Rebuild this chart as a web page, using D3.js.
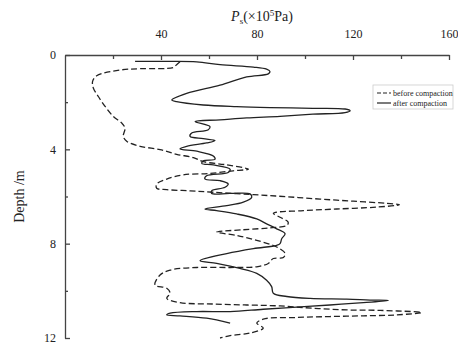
<!DOCTYPE html>
<html>
<head>
<meta charset="utf-8">
<script src="https://cdn.jsdelivr.net/npm/d3@7"></script>
<style>
  body { margin: 0; background: #fff; }
  svg text { font-family: "Liberation Serif", "Times New Roman", serif; fill: #222; }
</style>
</head>
<body>
<figure id="chart" style="margin:0"></figure>
<script>
// Ps (x10^5 Pa) vs depth (m)
const xTicks = [40, 80, 120, 160];
const xMinor = [20, 60, 100, 140];
const yTicks = [0, 4, 8, 12];
const yMinor = [2, 6, 10];
const seriesNames = ["before compaction", "after compaction"];

const beforePs = [47.9, 46.5, 45.1, 31.3, 22.9, 13.2, 11.5, 11.8, 13.9, 16.7, 20.1, 23.6, 25.0, 24.3, 25.7,
  31.3, 39.6, 46.5, 53.5, 57.6, 67.4, 76.4, 70.1, 60.4, 49.3, 42.4, 38.2, 38.2, 42.4, 52.1, 61.8, 78.5,
  92.4, 106.3, 120.1, 134.0, 139.3, 129.9, 113.2, 99.3, 86.8, 89.6, 93.0, 92.4, 85.4, 74.3, 63.2, 71.5,
  79.9, 88.2, 91.7, 91.0, 86.8, 84.7, 79.9, 68.8, 54.9, 43.8, 39.6, 37.5, 42.4, 43.8, 42.4, 47.9, 61.8,
  75.7, 89.6, 103.5, 117.4, 131.3, 148.6, 138.2, 124.3, 110.4, 96.5, 82.6, 79.9, 82.6, 77.1, 68.8, 64.6];
const beforeDepth = [0.29, 0.41, 0.53, 0.58, 0.64, 0.88, 1.12, 1.40, 1.76, 2.18, 2.60, 2.88, 3.10, 3.45, 3.66,
  3.87, 4.01, 4.21, 4.35, 4.52, 4.66, 4.84, 4.91, 5.02, 5.08, 5.26, 5.47, 5.65, 5.71, 5.76, 5.82, 5.92,
  6.01, 6.11, 6.20, 6.29, 6.35, 6.45, 6.53, 6.60, 6.71, 6.88, 7.09, 7.23, 7.33, 7.41, 7.51, 7.65,
  7.86, 8.14, 8.42, 8.59, 8.63, 8.84, 8.98, 9.01, 9.01, 9.12, 9.33, 9.76, 9.89, 10.10, 10.32, 10.50, 10.56,
  10.60, 10.64, 10.74, 10.81, 10.83, 10.92, 11.02, 11.06, 11.09, 11.13, 11.20, 11.37, 11.58, 11.79, 11.90, 12.0];

const afterPs = [29.2, 43.8, 54.9, 64.6, 78.5, 84.0, 85.4, 84.7, 75.7, 64.6, 50.7, 44.5, 46.5, 57.6, 71.5,
  85.4, 103.3, 116.7, 118.8, 116.7, 103.3, 89.6, 75.7, 64.6, 54.2, 60.4, 59.7, 52.8, 52.1, 57.6, 62.5,
  59.0, 50.7, 47.9, 54.9, 61.8, 62.5, 57.6, 57.0, 61.8, 68.8, 68.0, 59.0, 58.3, 64.6, 68.0, 66.7, 61.1,
  61.1, 68.8, 77.1, 77.8, 74.3, 67.4, 58.3, 63.2, 71.5, 79.9, 84.0, 88.2, 91.7, 90.3, 89.6, 88.2, 78.5,
  67.4, 56.3, 63.2, 72.9, 79.9, 84.0, 86.1, 86.8, 92.4, 102.1, 117.4, 127.1, 134.7, 124.3, 110.4, 96.5,
  82.6, 68.8, 54.9, 43.8, 42.4, 47.9, 59.0, 68.8];
const afterDepth = [0.27, 0.27, 0.29, 0.41, 0.51, 0.60, 0.70, 0.80, 0.93, 1.28, 1.63, 1.91, 1.98, 2.12, 2.19,
  2.23, 2.26, 2.29, 2.36, 2.44, 2.51, 2.60, 2.67, 2.75, 2.82, 3.03, 3.17, 3.31, 3.45, 3.55, 3.63,
  3.73, 3.87, 3.98, 4.08, 4.28, 4.42, 4.49, 4.60, 4.66, 4.84, 4.98, 5.12, 5.26, 5.33, 5.47, 5.61, 5.76,
  5.87, 5.87, 5.89, 6.03, 6.24, 6.39, 6.53, 6.60, 6.74, 6.95, 7.16, 7.37, 7.58, 7.79, 8.00, 8.07, 8.21,
  8.42, 8.72, 8.84, 9.05, 9.26, 9.55, 9.82, 10.10, 10.24, 10.32, 10.35, 10.39, 10.41, 10.50, 10.60, 10.69,
  10.78, 10.88, 10.88, 10.95, 11.02, 11.06, 11.16, 11.37];

const W = 458, H = 344;
const margin = { top: 55, left: 65, right: 9, bottom: 6 };

const svg = d3.select("figure#chart")
  .append("svg")
  .attr("width", W)
  .attr("height", H)
  .attr("font-family", "Liberation Serif, serif");

const x = d3.scaleLinear().domain([0, 160]).range([margin.left, W - margin.right]);
const y = d3.scaleLinear().domain([0, 12]).range([margin.top, H - margin.bottom]);

// top axis, ticks pointing into the plot
svg.append("g")
  .attr("transform", "translate(0," + margin.top + ")")
  .call(d3.axisTop(x).tickValues(xTicks).tickSizeInner(-5).tickSizeOuter(0).tickPadding(17));
svg.append("g")
  .attr("transform", "translate(0," + margin.top + ")")
  .call(d3.axisTop(x).tickValues(xMinor).tickSizeInner(-4).tickSizeOuter(0).tickFormat(""))
  .select(".domain").remove();

// left axis
svg.append("g")
  .attr("transform", "translate(" + margin.left + ",0)")
  .call(d3.axisLeft(y).tickValues(yTicks).tickSizeInner(-5).tickSizeOuter(0).tickPadding(9));
svg.append("g")
  .attr("transform", "translate(" + margin.left + ",0)")
  .call(d3.axisLeft(y).tickValues(yMinor).tickSizeInner(-3).tickSizeOuter(0).tickFormat(""))
  .select(".domain").remove();

svg.selectAll("g").attr("font-family", "Liberation Serif, serif");
svg.selectAll(".domain, .tick line").attr("stroke", "#444").attr("stroke-width", 1.3);
svg.selectAll(".tick text").attr("font-size", 12).attr("fill", "#222");

// title with sub/superscripts
const title = svg.append("text")
  .attr("x", 262).attr("y", 21)
  .attr("text-anchor", "middle")
  .attr("font-size", 14);
title.append("tspan").attr("font-style", "italic").text("P");
title.append("tspan").attr("font-size", 9).attr("dy", 3).text("s");
title.append("tspan").attr("dy", -3).text("(×10");
title.append("tspan").attr("font-size", 9).attr("dy", -5).text("5");
title.append("tspan").attr("dy", 5).text("Pa)");

svg.append("text")
  .attr("transform", "translate(24," + y(6) + ") rotate(-90)")
  .attr("text-anchor", "middle")
  .attr("font-size", 14)
  .text("Depth /m");

// curves
const line = d3.line()
  .x(d => x(d[0]))
  .y(d => y(d[1]))
  .curve(d3.curveCatmullRom.alpha(0.5));

const before = beforePs.map((v, i) => [v, beforeDepth[i]]);
const after = afterPs.map((v, i) => [v, afterDepth[i]]);

svg.append("path")
  .datum(before)
  .attr("d", line)
  .attr("fill", "none")
  .attr("stroke", "#222")
  .attr("stroke-width", 1.3)
  .attr("stroke-dasharray", "6,3");

svg.append("path")
  .datum(after)
  .attr("d", line)
  .attr("fill", "none")
  .attr("stroke", "#222")
  .attr("stroke-width", 1.3);

// legend
const lg = svg.append("g").attr("transform", "translate(373,85)");
lg.append("rect")
  .attr("width", 80).attr("height", 24)
  .attr("fill", "#fff").attr("stroke", "#ccc").attr("stroke-width", 0.8);
seriesNames.forEach((name, i) => {
  const row = lg.append("g").attr("transform", "translate(0," + (8 + i * 10) + ")");
  row.append("line")
    .attr("x1", 4).attr("x2", 18).attr("y1", 0).attr("y2", 0)
    .attr("stroke", "#222").attr("stroke-width", 1.2)
    .attr("stroke-dasharray", i === 0 ? "4,2" : null);
  row.append("text")
    .attr("x", 20).attr("y", 3)
    .attr("font-size", 8)
    .text(name);
});
</script>
</body>
</html>
